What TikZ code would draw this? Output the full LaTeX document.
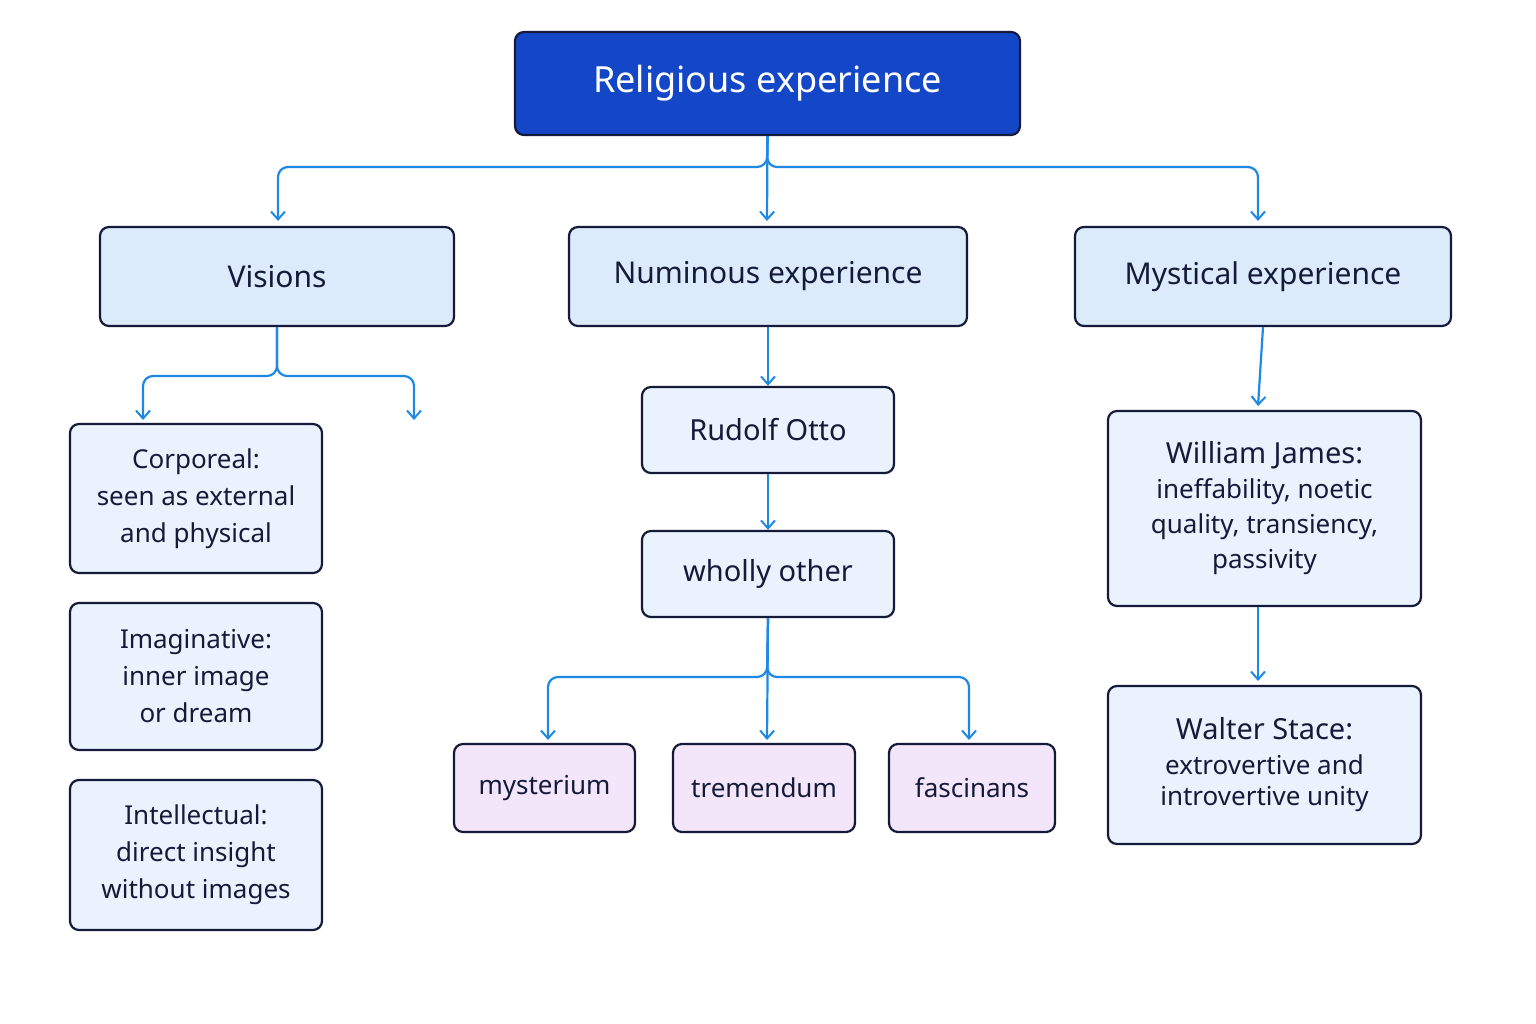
\documentclass[tikz,border=0pt]{standalone}
\usepackage{fontspec}
\setmainfont{Noto Sans}
\usetikzlibrary{arrows.meta}
\definecolor{navy}{HTML}{141B3A}
\definecolor{rootblue}{HTML}{1447C8}
\definecolor{lblue}{HTML}{DCEBFB}
\definecolor{llblue}{HTML}{EAF3FD}
\definecolor{lpink}{HTML}{F3E6FA}
\definecolor{conn}{HTML}{1E88E5}
\begin{document}
\begin{tikzpicture}[x=1pt,y=-1pt,
  box/.style={draw=navy,line width=2.2pt,rounded corners=9pt,align=center,inner sep=0pt},
  rootbox/.style={box,fill=rootblue,text=white,font=\fontsize{36}{42}\selectfont\bfseries},
  cat/.style={box,fill=lblue,text=navy,font=\fontsize{30}{36}\selectfont\bfseries},
  sub/.style={box,fill=llblue,text=navy,font=\fontsize{26}{37}\selectfont},
  pink/.style={box,fill=lpink,text=navy,font=\fontsize{26}{32}\selectfont},
  con/.style={draw=conn,line width=2.2pt,rounded corners=10pt,-{Straight Barb[length=8pt,width=14pt,line width=2pt]}}]
\useasboundingbox (0,0) rectangle (1536,1024);
\newcommand{\bx}[7]{\node[#1,minimum width=#4-#3,minimum height=#6-#5] (#2) at ({(#3+#4)/2},{(#5+#6)/2}) {#7};}
\bx{rootbox}{root}{515}{1020}{32}{135}{Religious experience}
\bx{cat}{vis}{100}{454}{227}{326}{Visions}
\bx{cat}{num}{569}{967}{227}{326}{Numinous experience}
\bx{cat}{mys}{1075}{1451}{227}{326}{Mystical experience}
\bx{sub}{corp}{70}{322}{424}{573}{\textbf{Corporeal:}\\seen as external\\and physical}
\bx{sub}{imag}{70}{322}{603}{750}{\textbf{Imaginative:}\\inner image\\or dream}
\bx{sub}{intel}{70}{322}{780}{930}{\textbf{Intellectual:}\\direct insight\\without images}
\bx{sub}{otto}{642}{894}{387}{473}{\fontsize{29}{34}\selectfont\bfseries Rudolf Otto}
\bx{sub}{wholly}{642}{894}{531}{617}{\fontsize{29}{34}\selectfont wholly other}
\bx{pink}{myst}{454}{635}{744}{832}{mysterium}
\bx{pink}{trem}{673}{855}{744}{832}{tremendum}
\bx{pink}{fasc}{889}{1055}{744}{832}{fascinans}
\bx{sub}{james}{1108}{1421}{411}{606}{{\fontsize{29}{34}\selectfont\bfseries William James:}\\[-2pt]ineffability, noetic\\[-2pt]quality, transiency,\\[-2pt]passivity}
\bx{sub}{stace}{1108}{1421}{686}{844}{{\fontsize{29}{34}\selectfont\bfseries Walter Stace:}\\[-2pt]extrovertive and\\[-6pt]introvertive unity}
\coordinate (dang) at (414,420);
% root branches
\draw[con] (root.south) -- (767,167) -| (278,221);
\draw[con] (root.south) -- (767,167) -| (1258,221);
\draw[con] (root.south) -- (767,221);
% visions
\draw[con] (vis.south) -- (277,376) -| (143,420);
\draw[con] (vis.south) -- (277,376) -| (dang);
% numinous
\draw[con] (num.south) -- (otto.north);
\draw[con] (otto.south) -- (wholly.north);
\draw[con] (wholly.south) -- (767,677) -| (548,740);
\draw[con] (wholly.south) -- (767,677) -| (969,740);
\draw[con] (wholly.south) -- (767,740);
% mystical
\draw[con] (mys.south) -- (1258,406);
\draw[con] (james.south -| 1258,0) -- (1258,681);
\end{tikzpicture}
\end{document}
